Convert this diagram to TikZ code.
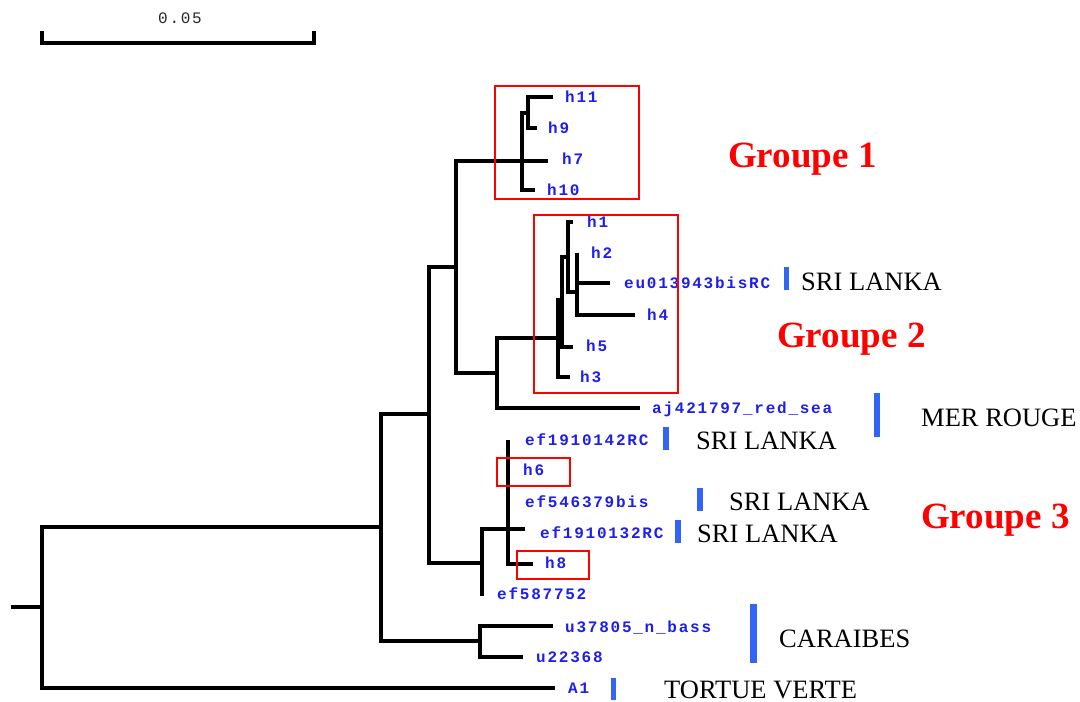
\documentclass[tikz,border=0pt]{standalone}
\usepackage{fontspec}
\setmainfont{Liberation Serif}
\newfontfamily\taxfont[LetterSpace=11]{Liberation Mono}
\definecolor{taxblue}{RGB}{30,30,235}
\definecolor{barblue}{RGB}{50,100,245}
\begin{document}
\begin{tikzpicture}[x=1pt,y=-1pt,
  branch/.style={line width=3.4pt, line join=miter},
  tax/.style={anchor=base west, inner sep=0pt, text=taxblue,
    font=\taxfont\fontsize{16}{18}\selectfont\bfseries},
  place/.style={anchor=base west, inner sep=0pt,
    font=\fontsize{26.5}{28}\selectfont},
  grp/.style={anchor=base west, inner sep=0pt, text=red,
    font=\fontsize{37}{40}\selectfont\bfseries},
  clade/.style={draw=red, line width=1.8pt},
  bar/.style={fill=barblue},
]
\useasboundingbox (0,0) rectangle (1080,702);

% ---- scale bar ----
\coordinate (sbL) at (42,43);
\coordinate (sbR) at (314,43);
\coordinate (sbLt) at (42,31);
\coordinate (sbRt) at (314,31);
\draw[line width=3.2pt, line join=miter] (sbLt) |- (sbR) -- (sbRt);
\node[anchor=base, inner sep=0pt, text=black!85,
  font=\taxfont\fontsize{16}{18}\selectfont] (sblabel) at (180,23) {0.05};

% ---- internal nodes ----
\coordinate (root) at (11,607);
\coordinate (n0)  at (42,607);
\coordinate (nA)  at (381,527);
\coordinate (nB)  at (429,414);
\coordinate (nC)  at (480,641);
\coordinate (nD)  at (456,267);
\coordinate (nE)  at (497,373);
\coordinate (g1)  at (522,161);
\coordinate (g1a) at (528,113);
\coordinate (g2)  at (558,338);
\coordinate (g2a) at (562,300);
\coordinate (g2b) at (568,257);
\coordinate (g2c) at (577,292);
\coordinate (g3)  at (482,563);
\coordinate (g3a) at (508,529);

% ---- branch tips ----
\coordinate (h11) at (553,97);
\coordinate (h9)  at (537,128);
\coordinate (h7)  at (548,161);
\coordinate (h10) at (535,190);
\coordinate (h1)  at (573,222);
\coordinate (h2)  at (577,253);
\coordinate (eu)  at (610,283);
\coordinate (h4)  at (635,315);
\coordinate (h5)  at (573,347);
\coordinate (h3)  at (570,377);
\coordinate (aj)  at (640,408);
\coordinate (ef142) at (508,440);
\coordinate (h6)  at (508,470);
\coordinate (ef546) at (510,500);
\coordinate (ef132) at (525,529);
\coordinate (h8)  at (533,564);
\coordinate (ef587) at (482,596);
\coordinate (u378) at (553,626);
\coordinate (u223) at (523,657);
\coordinate (A1)  at (555,688);

% ---- branches ----
\draw[branch] (root) -- (n0);
\draw[branch] (n0) |- (nA);
\draw[branch] (n0) |- (A1);
\draw[branch] (nA) |- (nB);
\draw[branch] (nA) |- (nC);
\draw[branch] (nB) |- (nD);
\draw[branch] (nB) |- (g3);
\draw[branch] (nD) |- (g1);
\draw[branch] (nD) |- (nE);
\draw[branch] (nE) |- (g2);
\draw[branch] (nE) |- (aj);
\draw[branch] (g1) |- (g1a);
\draw[branch] (g1) |- (h7);
\draw[branch] (g1) |- (h10);
\draw[branch] (g1a) |- (h11);
\draw[branch] (g1a) |- (h9);
\draw[branch] (g2) |- (g2a);
\draw[branch] (g2) |- (h3);
\draw[branch] (g2a) |- (g2b);
\draw[branch] (g2a) |- (h5);
\draw[branch] (g2b) |- (h1);
\draw[branch] (g2b) |- (g2c);
\draw[branch] (g2c) |- (h2);
\draw[branch] (g2c) |- (eu);
\draw[branch] (g2c) |- (h4);
\draw[branch] (g3) |- (g3a);
\draw[branch] (g3) |- (ef587);
\draw[branch] (g3a) |- (ef142);
\draw[branch] (g3a) |- (h6);
\draw[branch] (g3a) |- (ef546);
\draw[branch] (g3a) |- (ef132);
\draw[branch] (g3a) |- (h8);
\draw[branch] (nC) |- (u378);
\draw[branch] (nC) |- (u223);

% ---- tip labels ----
\node[tax] (l-h11) at (565,102) {h11};
\node[tax] (l-h9)  at (548,133) {h9};
\node[tax] (l-h7)  at (562,164) {h7};
\node[tax] (l-h10) at (547,195) {h10};
\node[tax] (l-h1)  at (587,227) {h1};
\node[tax] (l-h2)  at (591,258) {h2};
\node[tax] (l-eu)  at (624,288) {eu013943bisRC};
\node[tax] (l-h4)  at (647,320) {h4};
\node[tax] (l-h5)  at (586,351) {h5};
\node[tax] (l-h3)  at (580,382) {h3};
\node[tax] (l-aj)  at (652,413) {aj421797\_red\_sea};
\node[tax] (l-ef142) at (525,445) {ef1910142RC};
\node[tax] (l-h6)  at (523,475) {h6};
\node[tax] (l-ef546) at (525,507) {ef546379bis};
\node[tax] (l-ef132) at (540,538) {ef1910132RC};
\node[tax] (l-h8)  at (545,568) {h8};
\node[tax] (l-ef587) at (497,599) {ef587752};
\node[tax] (l-u378) at (565,632) {u37805\_n\_bass};
\node[tax] (l-u223) at (536,662) {u22368};
\node[tax] (l-A1)  at (568,693) {A1};

% ---- clade frames ----
\draw[clade] (495,86) rectangle (639,199);
\draw[clade] (534,215) rectangle (678,393);
\draw[clade] (497,458) rectangle (570,486);
\draw[clade] (517,551) rectangle (589,579);

% ---- origin bars ----
\fill[bar] (784,267) rectangle (789,290);
\fill[bar] (874,393) rectangle (880,437);
\fill[bar] (663,427) rectangle (669,450);
\fill[bar] (697,488) rectangle (703,511);
\fill[bar] (675,520) rectangle (681,543);
\fill[bar] (750,604) rectangle (757,663);
\fill[bar] (611,678) rectangle (616,700);

% ---- origin names ----
\node[place] (p-eu)   at (801,290) {SRI LANKA};
\node[place] (p-aj)   at (921,426) {MER ROUGE};
\node[place] (p-142)  at (696,449) {SRI LANKA};
\node[place] (p-546)  at (729,510) {SRI LANKA};
\node[place] (p-132)  at (697,542) {SRI LANKA};
\node[place] (p-car)  at (779,647) {CARAIBES};
\node[place] (p-tort) at (664,698) {TORTUE VERTE};

% ---- group names ----
\node[grp] (grp1) at (728,167) {Groupe 1};
\node[grp] (grp2) at (777,347) {Groupe 2};
\node[grp] (grp3) at (921,528) {Groupe 3};
\end{tikzpicture}
\end{document}
